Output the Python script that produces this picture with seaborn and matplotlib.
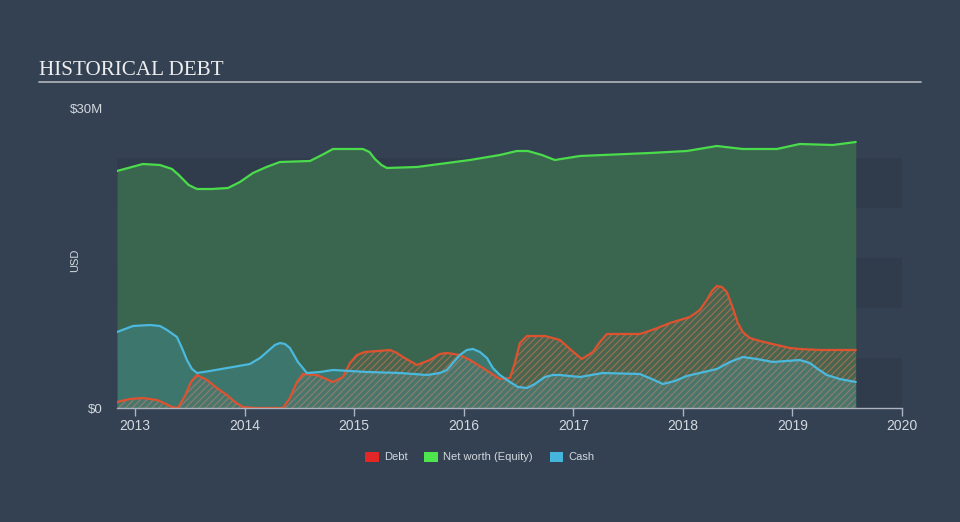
import matplotlib
matplotlib.use("Agg")
import numpy as np
import pandas as pd
import seaborn as sns
import matplotlib.pyplot as plt
from matplotlib.patches import Patch
from matplotlib.lines import Line2D

# ---------------- data (USD millions, decimal years) ----------------
equity_t = [2012.836, 2013.073, 2013.228, 2013.338, 2013.40, 2013.49, 2013.566, 2013.70,
            2013.849, 2013.958, 2014.077, 2014.20, 2014.323, 2014.597, 2014.706, 2014.807,
            2015.080, 2015.14, 2015.190, 2015.25, 2015.299, 2015.573, 2016.057, 2016.330,
            2016.485, 2016.586, 2016.714, 2016.832, 2017.060, 2017.699, 2018.036, 2018.310,
            2018.547, 2018.858, 2019.067, 2019.369, 2019.578]
equity_v = [23.7, 24.4, 24.3, 23.9, 23.3, 22.3, 21.9, 21.9,
            22.0, 22.6, 23.5, 24.1, 24.6, 24.7, 25.3, 25.9,
            25.9, 25.6, 24.9, 24.3, 24.0, 24.1, 24.8, 25.3,
            25.7, 25.7, 25.3, 24.8, 25.2, 25.5, 25.7, 26.2,
            25.9, 25.9, 26.4, 26.3, 26.6]

cash_t = [2012.836, 2012.982, 2013.137, 2013.228, 2013.292, 2013.383, 2013.429, 2013.474,
          2013.520, 2013.566, 2013.684, 2013.894, 2014.049, 2014.141, 2014.204, 2014.277,
          2014.323, 2014.369, 2014.414, 2014.487, 2014.569, 2014.688, 2014.807, 2015.117,
          2015.418, 2015.664, 2015.783, 2015.847, 2015.901, 2015.965, 2016.029, 2016.084,
          2016.148, 2016.212, 2016.266, 2016.330, 2016.422, 2016.495, 2016.577, 2016.650,
          2016.741, 2016.814, 2016.878, 2017.060, 2017.270, 2017.608, 2017.717, 2017.818,
          2017.927, 2018.036, 2018.310, 2018.429, 2018.547, 2018.675, 2018.821, 2019.067,
          2019.159, 2019.232, 2019.314, 2019.432, 2019.578]
cash_v = [7.6, 8.2, 8.3, 8.2, 7.8, 7.1, 6.0, 4.8,
          3.9, 3.5, 3.7, 4.1, 4.4, 5.0, 5.6, 6.3,
          6.5, 6.4, 6.0, 4.6, 3.5, 3.6, 3.8, 3.6,
          3.5, 3.3, 3.5, 3.8, 4.5, 5.3, 5.8, 5.9,
          5.6, 5.0, 4.0, 3.3, 2.6, 2.1, 2.0, 2.4,
          3.1, 3.3, 3.3, 3.1, 3.5, 3.4, 2.9, 2.4,
          2.7, 3.2, 3.9, 4.6, 5.1, 4.9, 4.6, 4.8,
          4.5, 3.9, 3.3, 2.9, 2.6]

debt_t = [2012.836, 2012.954, 2013.073, 2013.201, 2013.283, 2013.338, 2013.392, 2013.456,
          2013.511, 2013.566, 2013.657, 2013.748, 2013.839, 2013.912, 2013.985, 2014.095,
          2014.350, 2014.414, 2014.478, 2014.533, 2014.661, 2014.807, 2014.898, 2014.962,
          2015.026, 2015.099, 2015.327, 2015.391, 2015.445, 2015.573, 2015.691, 2015.783,
          2015.847, 2015.965, 2016.057, 2016.175, 2016.330, 2016.422, 2016.467, 2016.513,
          2016.577, 2016.741, 2016.878, 2016.969, 2017.078, 2017.179, 2017.243, 2017.307,
          2017.608, 2017.745, 2017.882, 2018.064, 2018.155, 2018.219, 2018.265, 2018.310,
          2018.356, 2018.401, 2018.456, 2018.502, 2018.547, 2018.611, 2018.703, 2018.858,
          2018.976, 2019.067, 2019.250, 2019.578]
debt_v = [0.6, 0.9, 1.0, 0.8, 0.4, 0.1, 0.0, 1.2,
          2.6, 3.3, 2.8, 2.0, 1.3, 0.6, 0.1, 0.0,
          0.0, 1.0, 2.6, 3.4, 3.3, 2.6, 3.1, 4.5,
          5.3, 5.6, 5.8, 5.5, 5.1, 4.3, 4.8, 5.4,
          5.5, 5.3, 4.8, 4.0, 2.9, 3.0, 4.5, 6.5,
          7.2, 7.2, 6.8, 5.9, 4.9, 5.6, 6.6, 7.4,
          7.4, 7.9, 8.5, 9.1, 9.8, 10.8, 11.7, 12.2,
          12.1, 11.6, 10.0, 8.5, 7.6, 7.0, 6.7, 6.3,
          6.0, 5.9, 5.8, 5.8]

x_ticks = [2013, 2014, 2015, 2016, 2017, 2018, 2019, 2020]
y_ticks = [0, 30]
y_labels = ["$0", "$30M"]
legend_labels = ["Debt", "Net worth (Equity)", "Cash"]

# ---------------- style ----------------
BG = "#344152"
BAND = "#303c4c"
TXT = "#d3d8de"
C_DEBT, C_EQ, C_CASH = "#de5230", "#4bdc4b", "#4bb9de"

sns.set_theme(style="white")
plt.rcParams["font.family"] = ["Liberation Sans", "DejaVu Sans"]
plt.rcParams["hatch.linewidth"] = 0.9

fig = plt.figure(figsize=(9.6, 5.22), dpi=100, facecolor=BG)
ax = fig.add_axes([117 / 960, 1 - 408 / 522, 785 / 960, 300 / 522])
ax.set_facecolor(BG)

for lo, hi in [(0, 5), (10, 15), (20, 25)]:
    ax.axhspan(lo, hi, color=BAND, lw=0, zorder=0)

df_eq = pd.DataFrame({"t": equity_t, "v": equity_v})
df_cash = pd.DataFrame({"t": cash_t, "v": cash_v})
df_debt = pd.DataFrame({"t": debt_t, "v": debt_v})

ax.fill_between(df_eq.t, 0, df_eq.v, color="#3a6650", lw=0, zorder=1)
ax.fill_between(df_debt.t, 0, df_debt.v, facecolor=(0.80, 0.40, 0.30, 0.10),
                edgecolor=(0.80, 0.45, 0.33, 0.60), hatch="/////", lw=0, zorder=2)
ax.fill_between(df_cash.t, 0, df_cash.v, color=C_CASH, alpha=0.2, lw=0, zorder=3)

sns.lineplot(data=df_eq, x="t", y="v", color=C_EQ, lw=1.6, ax=ax, zorder=5,
             estimator=None, sort=False)
sns.lineplot(data=df_debt, x="t", y="v", color=C_DEBT, lw=1.6, ax=ax, zorder=6,
             estimator=None, sort=False)
sns.lineplot(data=df_cash, x="t", y="v", color=C_CASH, lw=1.6, ax=ax, zorder=7,
             estimator=None, sort=False)
for l in ax.lines:
    l.set_solid_joinstyle("round")
    l.set_solid_capstyle("round")

ax.set_xlim(2012.836, 2020)
ax.set_ylim(0, 30)
ax.set_xticks(x_ticks)
ax.set_xticklabels([str(t) for t in x_ticks])
ax.set_yticks(y_ticks)
ax.set_yticklabels(y_labels)
ax.set_xlabel("")
ax.set_ylabel("")
ax.tick_params(axis="x", length=5.5, width=1, color="#aab3bf", colors=TXT,
               labelsize=10, pad=2.5, direction="out", bottom=True)
ax.tick_params(axis="y", length=0, colors=TXT, labelsize=9.5, pad=10)
for s in ["top", "right", "left"]:
    ax.spines[s].set_visible(False)
ax.spines["bottom"].set_color("#aab3bf")
ax.spines["bottom"].set_linewidth(1)
ax.spines["bottom"].set_zorder(8)

# title and rule
fig.text(39 / 960, 1 - 75 / 522, "HISTORICAL DEBT", family="Liberation Serif",
         fontsize=15.2, color="#eeeeee", va="baseline", ha="left")
fig.add_artist(Line2D([39 / 960, 921 / 960], [1 - 82 / 522] * 2, color="#a9adb3", lw=1.3))

fig.text(75 / 960, 1 - 260 / 522, "USD", rotation=90, ha="center", va="center",
         fontsize=8, color=TXT)

handles = [Patch(facecolor=c, edgecolor="none") for c in ["#e32626", "#4de64d", "#45b5dc"]]
leg = fig.legend(handles, legend_labels, loc="center", bbox_to_anchor=(0.5, 1 - 457 / 522),
                 ncol=3, frameon=False, handlelength=1.2, handleheight=1.0,
                 handletextpad=0.5, columnspacing=1.5, fontsize=8)
for t in leg.get_texts():
    t.set_color(TXT)

fig.savefig("out.png", dpi=100, facecolor=BG)
